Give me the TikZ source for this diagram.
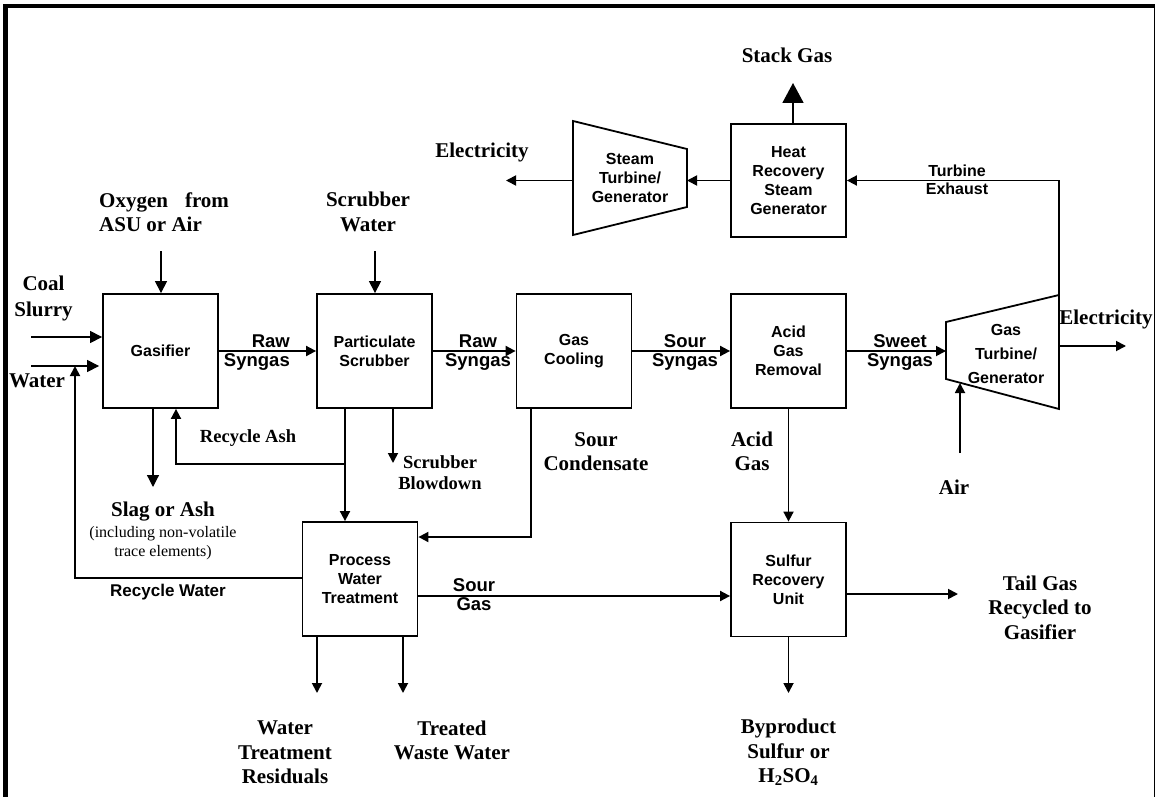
\documentclass[tikz,border=0pt]{standalone}
\usepackage{fontspec}
\setmainfont{Liberation Serif}
\setsansfont{Liberation Sans}
\usetikzlibrary{arrows.meta}
\begin{document}
\begin{tikzpicture}[x=1pt,y=-1pt,
  unit/.style={draw,line width=1.8,minimum width=115,minimum height=114,inner sep=0,align=center,
    font=\sffamily\bfseries\fontsize{16}{19}\selectfont},
  unittext/.style={inner sep=0,align=center,font=\sffamily\bfseries\fontsize{16}{19}\selectfont},
  tlab/.style={inner sep=0,align=center,font=\rmfamily\bfseries\fontsize{21}{24.5}\selectfont},
  mlab/.style={inner sep=0,align=center,font=\rmfamily\bfseries\fontsize{18.5}{21}\selectfont},
  slab/.style={inner sep=0,align=center,font=\sffamily\bfseries\fontsize{18.5}{19}\selectfont},
  flow/.style={line width=1.8,-{Triangle[length=10,width=10]}},
  thinflow/.style={line width=1.2,-{Triangle[length=12,width=12]}},
  outline/.style={line width=1.8,line join=miter}
]
\useasboundingbox (0,0) rectangle (1159,797);

% frame
\draw[line width=5] (5.5,797) -- (5.5,4.5);
\draw[line width=4] (3,6.5) -- (1155.3,6.5);
\draw[line width=1.5] (1154.5,6.5) -- (1154.5,797);

% process units
\node[unit] (gas) at (160.5,351) {Gasifier};
\node[unit] (ps)  at (374.5,351) {Particulate\\Scrubber};
\node[unit] (gc)  at (574,351) {Gas\\Cooling};
\node[unit] (agr) at (788.5,351) {Acid\\Gas\\Removal};
\node[unit,minimum height=113] (hrsg) at (788.5,180.5) {Heat\\Recovery\\Steam\\Generator};
\node[unit] (pwt) at (360,579) {Process\\Water\\Treatment};
\node[unit] (sru) at (788.5,579.5) {Sulfur\\Recovery\\Unit};

% steam turbine
\draw[outline] (573,121) -- (687,149) -- (687,207) -- (573,235) -- cycle;
\node[unittext] (st) at (630,178) {Steam\\Turbine/\\Generator};
\coordinate (stin) at (687,180.5);
\coordinate (stout) at (573,180.5);

% gas turbine
\draw[outline] (946,322) -- (1059,295) -- (1059,409) -- (946,379) -- cycle;
\node[unittext,font=\sffamily\bfseries\fontsize{16}{24}\selectfont] (gt) at (1006,354) {Gas\\Turbine/\\Generator};
\coordinate (gtin) at (946,351);
\coordinate (gttop) at (1059,295);
\coordinate (gtout) at (1059,346);
\coordinate (gtair) at (960,383);

% free ends
\coordinate (coal) at (31,337);
\coordinate (water) at (31,366);
\coordinate (rwc) at (75,578);
\coordinate (oxy) at (161,251);
\coordinate (sw) at (375,251);
\coordinate (slag) at (153,487);
\coordinate (ash) at (345,464);
\coordinate (ashup) at (176,464);
\coordinate (bd) at (393,463);
\coordinate (sc) at (531,537);
\coordinate (sgy) at (0,596);
\coordinate (tail) at (958,594);
\coordinate (sulf) at (788.5,693);
\coordinate (wtr) at (317,693);
\coordinate (tww) at (403,693);
\coordinate (air) at (960,453);
\coordinate (elec2) at (1126,346);
\coordinate (elec1) at (506,180.5);
\coordinate (stack) at (793,83);

% connectors
\draw[thinflow] (coal) -- (coal -| gas.west);
\draw[thinflow] (water) -- ([xshift=-3]water -| gas.west);
\draw[flow] (pwt.west |- rwc) -- (rwc) -- (rwc |- water);
\draw[thinflow] (oxy) -- (oxy |- gas.north);
\draw[thinflow] (sw) -- (sw |- ps.north);
\draw[flow] (gas.east) -- (ps.west);
\draw[flow] (ps.east) -- (gc.west);
\draw[flow] (gc.east) -- (agr.west);
\draw[flow] (agr.east) -- (gtin);
\draw[thinflow] (slag |- gas.south) -- (slag);
\draw[flow] (ash |- ps.south) -- (ash |- pwt.north);
\draw[flow] (ash) -- (ashup) -- (ashup |- gas.south);
\draw[flow] (bd |- ps.south) -- (bd);
\draw[flow] (sc |- gc.south) -- (sc) -- (sc -| pwt.east);
\draw[flow] (agr.south) -- (sru.north);
\draw[flow] (pwt.east |- sgy) -- (sru.west |- sgy);
\draw[flow] (sru.east |- tail) -- (tail);
\draw[flow] (sru.south) -- (sulf);
\draw[flow] (wtr |- pwt.south) -- (wtr);
\draw[flow] (tww |- pwt.south) -- (tww);
\draw[flow] (air) -- (gtair);
\draw[flow] (gtout) -- (elec2);
\draw[flow] (gttop) -- (gttop |- hrsg.east) -- (hrsg.east);
\draw[flow] (hrsg.west) -- (stin);
\draw[flow] (stout) -- (elec1);
\draw[line width=1.8,-{Triangle[length=20,width=21]}] (stack |- hrsg.north) -- (stack);

% stream labels
\node[tlab,font=\rmfamily\bfseries\fontsize{21}{26}\selectfont] (lcoal) at (43.5,298) {Coal\\Slurry};
\node[tlab] (lwater) at (37,381) {Water};
\node[tlab,align=left,anchor=west] (loxy) at (99,212) {Oxygen\hspace{17pt}from\\ASU or Air};
\node[tlab] (lsw) at (368,212) {Scrubber\\Water};
\node[tlab] (lelec1) at (482,152) {Electricity};
\node[tlab] (lstack) at (787,55) {Stack Gas};
\node[unittext,font=\sffamily\bfseries\fontsize{16}{18}\selectfont] (lexh) at (957,180) {Turbine\\Exhaust};
\node[tlab] (lelec2) at (1106,319) {Electricity};
\node[slab,align=right,anchor=east] (lraw1) at (290,352.5) {Raw\\Syngas};
\node[slab] (lraw2) at (478,352.5) {Raw\\Syngas};
\node[slab] (lsour) at (685,352.5) {Sour\\Syngas};
\node[slab] (lsweet) at (900,352) {Sweet\\Syngas};
\node[mlab] (lash) at (248,438) {Recycle Ash};
\node[tlab] (lslag) at (163,512) {Slag or Ash};
\node[inner sep=0,align=center,font=\rmfamily\fontsize{16}{19}\selectfont] (lslag2) at (163,543) {(including non-volatile\\trace elements)};
\node[mlab] (lbd) at (440,472.5) {Scrubber\\Blowdown};
\node[tlab] (lsc) at (596,451.5) {Sour\\Condensate};
\node[tlab] (lacid) at (752,451.5) {Acid\\Gas};
\node[inner sep=0,font=\sffamily\bfseries\fontsize{17}{19}\selectfont] (lrw) at (168,592) {Recycle Water};
\node[slab] (lsg) at (474,595) {Sour\\Gas};
\node[tlab] (lair) at (954,487) {Air};
\node[tlab] (ltail) at (1040,607.5) {Tail Gas\\Recycled to\\Gasifier};
\node[tlab] (lwtr) at (285,752.5) {Water\\Treatment\\Residuals};
\node[tlab] (ltww) at (452,740.5) {Treated\\Waste Water};
\node[tlab] (lsulf) at (788.5,752.5) {Byproduct\\Sulfur or\\H\textsubscript{2}SO\textsubscript{4}};
\end{tikzpicture}
\end{document}
